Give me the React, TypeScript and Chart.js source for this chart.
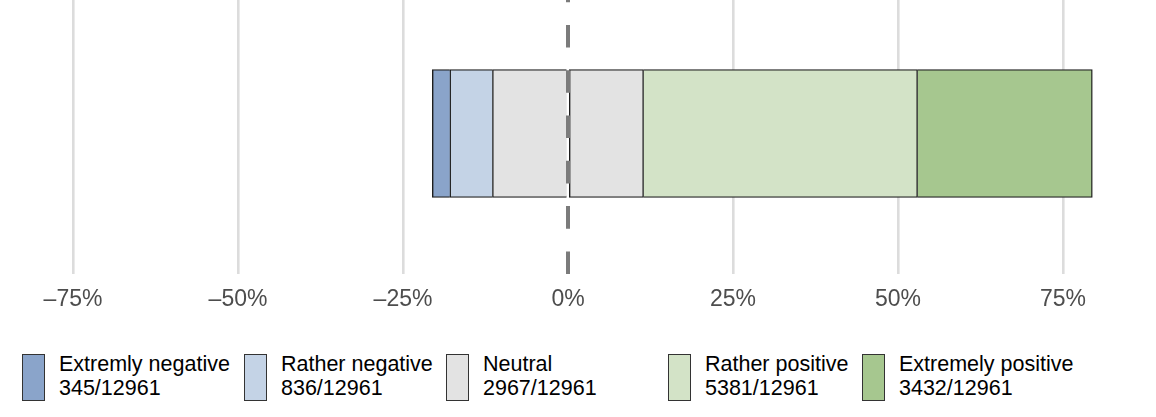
import React, { useEffect, useRef } from "react";
import { Chart, registerables } from "chart.js";

Chart.register(...registerables);

// ---- data ----
const categories = ["Extremly negative", "Rather negative", "Neutral", "Rather positive", "Extremely positive"];
const counts = [345, 836, 2967, 5381, 3432];
const total = 12961;
const tickValues = [-75, -50, -25, 0, 25, 50, 75];
const referenceLine = 0;
const colors = ["#8aa4ca", "#c4d3e6", "#e3e3e3", "#d3e3c7", "#a6c78f"];

// ---- layout (not data) ----
const W = 1156;
const CANVAS_H = 330;
const AREA_BOTTOM = 267;
const legendBoxX = [22, 244, 446, 668, 862];
const legendTextX = [59, 281, 483, 705, 899];
const FONT = "'Liberation Sans', Arial, Helvetica, sans-serif";

const pct = counts.map((c) => (c / total) * 100);

const dashPlugin = {
  id: "zeroDash",
  afterDatasetsDraw(chart: any) {
    const { ctx, chartArea, scales } = chart;
    const x = scales.x.getPixelForValue(referenceLine);
    ctx.save();
    ctx.strokeStyle = "#7b7b7b";
    ctx.lineWidth = 4;
    ctx.lineCap = "butt";
    ctx.setLineDash([22.6, 22.7]);
    ctx.beginPath();
    ctx.moveTo(x, chartArea.bottom + 7);
    ctx.lineTo(x, 0);
    ctx.stroke();
    ctx.restore();
  },
};

export default function App() {
  const ref = useRef<HTMLCanvasElement>(null);

  useEffect(() => {
    if (!ref.current) return;
    Chart.defaults.font.family = FONT;
    const mk = (label: string, value: number, color: string, skip: any) => ({
      label,
      data: [value],
      backgroundColor: color,
      borderColor: "#1e1e1e",
      borderWidth: 1.4,
      borderSkipped: skip,
      barThickness: 128,
      stack: "s",
    });
    const datasets = [
      mk(categories[2], -pct[2] / 2, colors[2], "start"),
      mk(categories[1], -pct[1], colors[1], "start"),
      mk(categories[0], -pct[0], colors[0], "start"),
      mk(categories[2], pct[2] / 2, colors[2], false),
      mk(categories[3], pct[3], colors[3], "start"),
      mk(categories[4], pct[4], colors[4], "start"),
    ];
    const chart = new Chart(ref.current, {
      type: "bar",
      data: { labels: ["All"], datasets },
      plugins: [dashPlugin],
      options: {
        indexAxis: "y",
        animation: false,
        responsive: false,
        layout: { padding: { left: 7, right: 13.8, top: 0, bottom: 0 } },
        plugins: { legend: { display: false }, tooltip: { enabled: false } },
        scales: {
          x: {
            type: "linear",
            min: -85,
            max: 87,
            stacked: true,
            afterBuildTicks: (s: any) => {
              s.ticks = tickValues.map((v) => ({ value: v }));
            },
            afterFit: (s: any) => {
              s.height = CANVAS_H - AREA_BOTTOM;
            },
            grid: {
              color: (c: any) => (c.tick && c.tick.value === referenceLine ? "rgba(0,0,0,0)" : "#dcdcdc"),
              lineWidth: 2.6,
              drawTicks: true,
              tickLength: 7,
            },
            border: { display: false },
            ticks: {
              font: { size: 23 },
              color: "#4d4d4d",
              padding: 12,
              maxRotation: 0,
              autoSkip: false,
              callback: (v: any) => `${v < 0 ? "\u2013" : ""}${Math.abs(v)}%`,
            },
          },
          y: { stacked: true, display: false },
        },
      } as any,
    });
    return () => chart.destroy();
  }, []);

  return (
    <div style={{ position: "absolute", left: 0, top: 0, width: W, height: 417, background: "#fff", fontFamily: FONT }}>
      <canvas ref={ref} width={W} height={CANVAS_H} style={{ display: "block" }} />
      {categories.map((c, i) => (
        <React.Fragment key={c}>
          <div
            style={{
              position: "absolute",
              left: legendBoxX[i],
              top: 354,
              width: 23,
              height: 47,
              boxSizing: "border-box",
              border: "1.4px solid #333",
              background: colors[i],
            }}
          />
          <div
            style={{
              position: "absolute",
              left: legendTextX[i],
              top: 352,
              fontSize: 21.5,
              lineHeight: "24px",
              color: "#000",
              whiteSpace: "nowrap",
            }}
          >
            <div>{c}</div>
            <div>{`${counts[i]}/${total}`}</div>
          </div>
        </React.Fragment>
      ))}
    </div>
  );
}
